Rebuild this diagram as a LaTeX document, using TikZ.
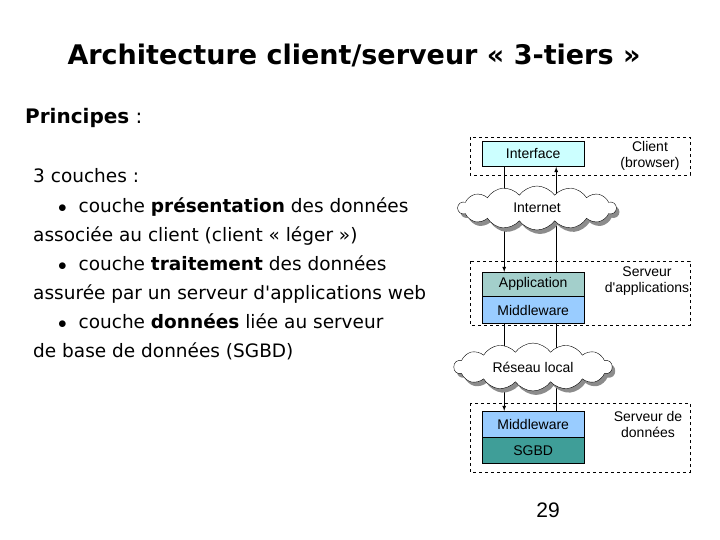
\documentclass[tikz,border=0pt]{standalone}
\usepackage{fontspec}
\setmainfont{Liberation Sans}
\newfontfamily\verd{DejaVu Sans}
\usetikzlibrary{shapes.symbols,shadows,positioning}
\definecolor{cliC}{HTML}{CCFFFF}
\definecolor{appC}{HTML}{A3CFCB}
\definecolor{midC}{HTML}{99CCFF}
\definecolor{dbC}{HTML}{3F9E98}
\tikzset{
  tier/.style={draw, dashed},
  layer/.style={draw, minimum width=102pt, minimum height=25.5pt, inner sep=0pt, font=\fontsize{14}{16}\selectfont},
  net/.style={cloud, cloud puffs=14, cloud puff arc=110, aspect=3.6, draw, fill=white, minimum width=158pt, minimum height=44pt,
    drop shadow={shadow xshift=3pt, shadow yshift=-4pt, fill=black!45, opacity=1}, font=\fontsize{14}{16}\selectfont},
  lbl/.style={align=center, font=\fontsize{14}{16}\selectfont, inner sep=0pt},
  txt/.style={anchor=base west, inner sep=0pt, font=\verd\fontsize{18.5}{22}\selectfont}
}
\begin{document}
\begin{tikzpicture}[x=1pt, y=-1pt]
    \useasboundingbox (0,0) rectangle (720,540);

    % title and text
    \node[font=\verd\fontsize{27}{31}\selectfont\bfseries] (title) at (354,55) {Architecture client/serveur « 3-tiers »};
    \node[txt, font=\verd\fontsize{20}{24}\selectfont] (princ) at (25,124) {\textbf{Principes} :};
    \node[txt] (l1) at (33,183) {3 couches :};
    \node[txt] (l2) at (58,212) {$\bullet$ \ couche \textbf{présentation} des données};
    \node[txt] (l3) at (33,241) {associée au client (client « léger »)};
    \node[txt] (l4) at (58,270) {$\bullet$ \ couche \textbf{traitement} des données};
    \node[txt] (l5) at (33,299) {assurée par un serveur d\textquotesingle applications web};
    \node[txt] (l6) at (58,328) {$\bullet$ \ couche \textbf{données} liée au serveur};
    \node[txt] (l7) at (33,357) {de base de données (SGBD)};

    % tiers
    \draw[tier] (470,137) rectangle (690,175);
    \draw[tier] (470,261) rectangle (690,325);
    \draw[tier] (470,403) rectangle (690,472);

    \node[layer, fill=cliC, anchor=north west] (inter) at (482,141) {Interface};
    \node[layer, fill=appC, anchor=north west, minimum height=24pt] (appl) at (482,272) {Application};
    \node[layer, fill=midC, below=0pt of appl, minimum height=27pt] (mid1) {Middleware};
    \node[layer, fill=midC, anchor=north west, minimum height=26pt] (mid2) at (482,411) {Middleware};
    \node[layer, fill=dbC, below=0pt of mid2, minimum height=26pt] (sgbd) {SGBD};

    \node[lbl] (cli) at (650,156) {Client\\(browser)};
    \node[lbl] (srva) at (647,281) {Serveur\\d\textquotesingle applications};
    \node[lbl] (srvd) at (648,424) {Serveur de\\données};

    % connectors
    \draw[thick] ([xshift=-29pt]inter.south) -- ([xshift=-29pt]appl.north |- 0,232);
    \draw[thick, -latex] ([xshift=-29pt]appl.north |- 0,232) -- ([xshift=-29pt]appl.north);
    \draw[thick, -latex] ([xshift=23pt]appl.north) -- ([xshift=23pt]inter.south);
    \draw[thick] ([xshift=-29pt]mid1.south) -- ([xshift=-29pt]mid1.south |- 0,388);
    \draw[thick, -latex] ([xshift=-29pt]mid1.south |- 0,388) -- ([xshift=-29pt]mid2.north);
    \draw[thick] ([xshift=23pt]mid2.north) -- ([xshift=23pt]mid1.south);

    \node[net] (inet) at (537,208) {Internet};
    \node[net, minimum height=42pt] (lan) at (533,367) {Réseau local};

    \node[font=\fontsize{21}{25}\selectfont] (page) at (548,510) {29};
\end{tikzpicture}
\end{document}
